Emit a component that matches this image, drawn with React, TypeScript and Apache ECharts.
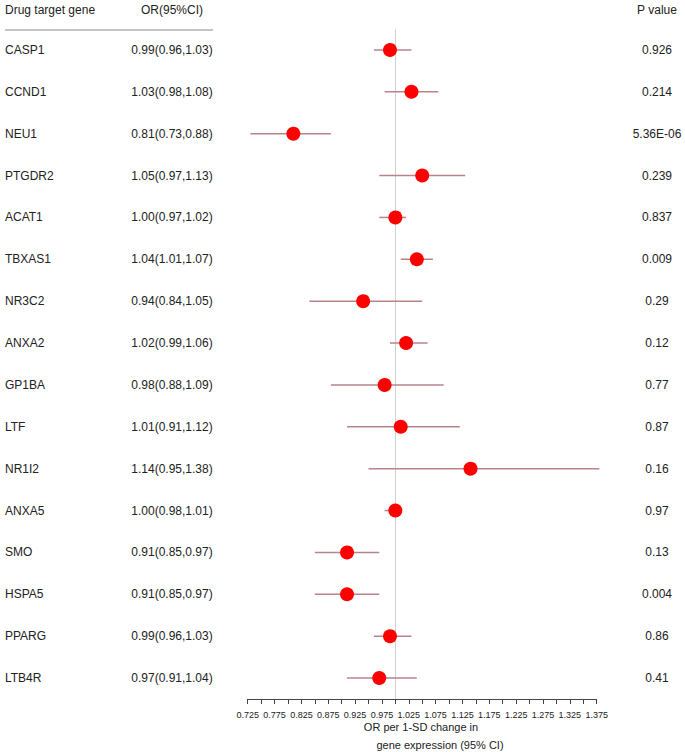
import React, { useEffect, useRef } from "react";
import * as echarts from "echarts";

const genes = ["CASP1", "CCND1", "NEU1", "PTGDR2", "ACAT1", "TBXAS1", "NR3C2", "ANXA2", "GP1BA", "LTF", "NR1I2", "ANXA5", "SMO", "HSPA5", "PPARG", "LTB4R"];
const orValues = [0.99, 1.03, 0.81, 1.05, 1.0, 1.04, 0.94, 1.02, 0.98, 1.01, 1.14, 1.0, 0.91, 0.91, 0.99, 0.97];
const lowerCI = [0.96, 0.98, 0.73, 0.97, 0.97, 1.01, 0.84, 0.99, 0.88, 0.91, 0.95, 0.98, 0.85, 0.85, 0.96, 0.91];
const upperCI = [1.03, 1.08, 0.88, 1.13, 1.02, 1.07, 1.05, 1.06, 1.09, 1.12, 1.38, 1.01, 0.97, 0.97, 1.03, 1.04];
const pValues = ["0.926", "0.214", "5.36E-06", "0.239", "0.837", "0.009", "0.29", "0.12", "0.77", "0.87", "0.16", "0.97", "0.13", "0.004", "0.86", "0.41"];

const FONT = "'Liberation Sans', Arial, sans-serif";
const TXT = "#222";

function fmt(v: number) {
  return v.toFixed(2);
}

export default function App() {
  const ref = useRef<HTMLDivElement>(null);
  useEffect(() => {
    if (!ref.current) return;
    const chart = echarts.init(ref.current, undefined, { renderer: "svg" });
    const orText = genes.map((_, i) => `${fmt(orValues[i])}(${fmt(lowerCI[i])},${fmt(upperCI[i])})`);
    chart.setOption({
      animation: false,
      textStyle: { fontFamily: FONT },
      grid: { left: 247.7, right: 88.3, top: 29, bottom: 53 },
      xAxis: {
        type: "value",
        min: 0.725,
        max: 1.375,
        interval: 0.025,
        splitLine: { show: false },
        axisLine: { show: true, onZero: false, lineStyle: { color: "#444", width: 1 } },
        axisTick: { show: true, length: 5, lineStyle: { color: "#444" } },
        axisLabel: {
          margin: 11,
          fontSize: 9,
          color: TXT,
          fontFamily: FONT,
          formatter: (v: number) => {
            const k = Math.round(v * 1000);
            return (k - 725) % 50 === 0 ? (k / 1000).toFixed(3) : "";
          },
        },
      },
      yAxis: {
        type: "value",
        min: -0.5,
        max: 15.5,
        inverse: true,
        show: false,
        splitLine: { show: false },
      },
      graphic: [
        { type: "text", x: 5, y: 10, style: { text: "Drug target gene", fontSize: 12, fill: TXT, fontFamily: FONT, verticalAlign: "middle" } },
        { type: "text", x: 172, y: 10, style: { text: "OR(95%CI)", fontSize: 12, fill: TXT, fontFamily: FONT, align: "center", verticalAlign: "middle" } },
        { type: "text", x: 657, y: 10, style: { text: "P value", fontSize: 12, fill: TXT, fontFamily: FONT, align: "center", verticalAlign: "middle" } },
        { type: "line", shape: { x1: 5, y1: 30, x2: 213, y2: 30 }, style: { stroke: "#888", lineWidth: 1 } },
        { type: "text", x: 421, y: 727, style: { text: "OR per 1-SD change in", fontSize: 11, fill: TXT, fontFamily: FONT, align: "center", verticalAlign: "middle" } },
        { type: "text", x: 440, y: 745, style: { text: "gene expression (95% CI)", fontSize: 11, fill: TXT, fontFamily: FONT, align: "center", verticalAlign: "middle" } },
      ],
      series: [
        {
          type: "custom",
          z: 1,
          clip: false,
          data: genes.map((_, i) => [lowerCI[i], upperCI[i], i]),
          encode: { x: [0, 1], y: 2 },
          renderItem: (params: any, api: any) => {
            const i = params.dataIndex;
            const p1 = api.coord([api.value(0), api.value(2)]);
            const p2 = api.coord([api.value(1), api.value(2)]);
            const y = p1[1];
            return {
              type: "group",
              children: [
                {
                  type: "line",
                  shape: { x1: p1[0], y1: y, x2: p2[0], y2: y },
                  style: { stroke: "#b9838a", lineWidth: 1.5 },
                },
                {
                  type: "text",
                  x: 5,
                  y,
                  style: { text: genes[i], fontSize: 12, fill: TXT, fontFamily: FONT, verticalAlign: "middle", align: "left" },
                },
                {
                  type: "text",
                  x: 172,
                  y,
                  style: { text: orText[i], fontSize: 12, fill: TXT, fontFamily: FONT, verticalAlign: "middle", align: "center" },
                },
                {
                  type: "text",
                  x: 657,
                  y,
                  style: { text: pValues[i], fontSize: 12, fill: TXT, fontFamily: FONT, verticalAlign: "middle", align: "center" },
                },
              ],
            };
          },
        },
        {
          type: "scatter",
          z: 3,
          symbolSize: 14,
          itemStyle: { color: "#ff0000", opacity: 1 },
          data: genes.map((_, i) => [orValues[i], i]),
          markLine: {
            silent: true,
            symbol: "none",
            z: 0,
            label: { show: false },
            lineStyle: { color: "#d0d0d0", width: 1, type: "solid" },
            data: [{ xAxis: 1 }],
          },
        },
      ],
    });
    return () => chart.dispose();
  }, []);
  return <div ref={ref} style={{ position: "absolute", left: 0, top: 0, width: 685, height: 752 }} />;
}
